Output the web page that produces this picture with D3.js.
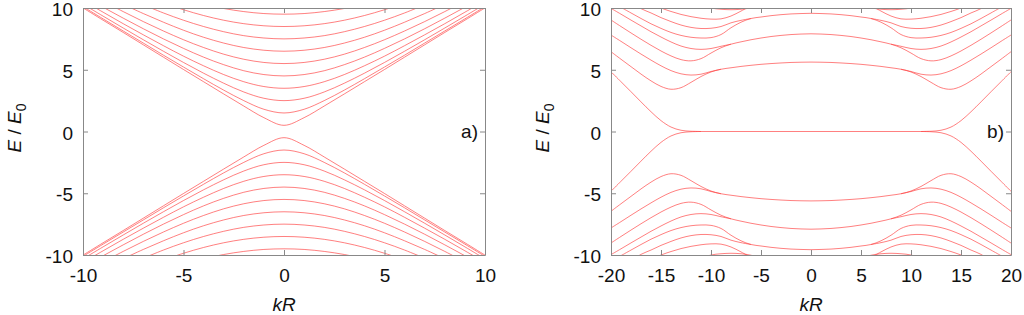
<!DOCTYPE html>
<html>
<head>
<meta charset="utf-8">
<script src="https://cdn.jsdelivr.net/npm/d3@7"></script>
<style>
body { margin: 0; background: #fff; }
text { font-family: "Liberation Sans", Arial, sans-serif; }
</style>
</head>
<body>
<div id="chart"></div>
<script>
var kA = [-10,-9,-8,-7,-6,-5,-4,-3,-2,-1,0,1,2,3,4,5,6,7,8,9,10];
var kB = [-20,-19,-18,-17,-16,-15,-14,-13,-12,-11,-10,-9,-8,-7,-6,-5,-4,-3,-2,-1,0,
          1,2,3,4,5,6,7,8,9,10,11,12,13,14,15,16,17,18,19,20];

// panel a) upper branches
var upperA = [
  [10.01,9.01,8.02,7.02,6.02,5.02,4.03,3.04,2.06,1.12,0.5,1.12,2.06,3.04,4.03,5.02,6.02,7.02,8.02,9.01,10.01],
  [10.11,9.12,8.14,7.16,6.18,5.22,4.27,3.35,2.5,1.8,1.5,1.8,2.5,3.35,4.27,5.22,6.18,7.16,8.14,9.12,10.11],
  [10.31,9.34,8.38,7.43,6.5,5.59,4.72,3.91,3.2,2.69,2.5,2.69,3.2,3.91,4.72,5.59,6.5,7.43,8.38,9.34,10.31],
  [10.59,9.66,8.73,7.83,6.95,6.1,5.32,4.61,4.03,3.64,3.5,3.64,4.03,4.61,5.32,6.1,6.95,7.83,8.73,9.66,10.59],
  [10.97,10.06,9.18,8.32,7.5,6.73,6.02,5.41,4.92,4.61,4.5,4.61,4.92,5.41,6.02,6.73,7.5,8.32,9.18,10.06,10.97],
  [null,10.55,9.71,8.9,8.14,7.43,6.8,6.26,5.85,5.59,5.5,5.59,5.85,6.26,6.8,7.43,8.14,8.9,9.71,10.55,null],
  [null,null,10.3,9.55,8.85,8.2,7.63,7.16,6.8,6.58,6.5,6.58,6.8,7.16,7.63,8.2,8.85,9.55,10.3,null,null],
  [null,null,null,10.26,9.6,9.01,8.5,8.08,7.76,7.57,7.5,7.57,7.76,8.08,8.5,9.01,9.6,10.26,null,null,null],
  [null,null,null,null,10.4,9.86,9.39,9.01,8.73,8.56,8.5,8.56,8.73,9.01,9.39,9.86,10.4,null,null,null,null],
  [null,null,null,null,null,null,10.31,9.96,9.71,9.55,9.5,9.55,9.71,9.96,10.31,null,null,null,null,null,null]
];
// panel a) lower branches
var lowerA = [
  [-10.01,-9.01,-8.02,-7.02,-6.02,-5.02,-4.03,-3.04,-2.06,-1.12,-0.5,-1.12,-2.06,-3.04,-4.03,-5.02,-6.02,-7.02,-8.02,-9.01,-10.01],
  [-10.11,-9.12,-8.14,-7.16,-6.18,-5.22,-4.27,-3.35,-2.5,-1.8,-1.5,-1.8,-2.5,-3.35,-4.27,-5.22,-6.18,-7.16,-8.14,-9.12,-10.11],
  [-10.31,-9.34,-8.38,-7.43,-6.5,-5.59,-4.72,-3.91,-3.2,-2.69,-2.5,-2.69,-3.2,-3.91,-4.72,-5.59,-6.5,-7.43,-8.38,-9.34,-10.31],
  [-10.59,-9.66,-8.73,-7.83,-6.95,-6.1,-5.32,-4.61,-4.03,-3.64,-3.5,-3.64,-4.03,-4.61,-5.32,-6.1,-6.95,-7.83,-8.73,-9.66,-10.59],
  [-10.97,-10.06,-9.18,-8.32,-7.5,-6.73,-6.02,-5.41,-4.92,-4.61,-4.5,-4.61,-4.92,-5.41,-6.02,-6.73,-7.5,-8.32,-9.18,-10.06,-10.97],
  [null,-10.55,-9.71,-8.9,-8.14,-7.43,-6.8,-6.26,-5.85,-5.59,-5.5,-5.59,-5.85,-6.26,-6.8,-7.43,-8.14,-8.9,-9.71,-10.55,null],
  [null,null,-10.3,-9.55,-8.85,-8.2,-7.63,-7.16,-6.8,-6.58,-6.5,-6.58,-6.8,-7.16,-7.63,-8.2,-8.85,-9.55,-10.3,null,null],
  [null,null,null,-10.26,-9.6,-9.01,-8.5,-8.08,-7.76,-7.57,-7.5,-7.57,-7.76,-8.08,-8.5,-9.01,-9.6,-10.26,null,null,null],
  [null,null,null,null,-10.4,-9.86,-9.39,-9.01,-8.73,-8.56,-8.5,-8.56,-8.73,-9.01,-9.39,-9.86,-10.4,null,null,null,null],
  [null,null,null,null,null,null,-10.31,-9.96,-9.71,-9.55,-9.5,-9.55,-9.71,-9.96,-10.31,null,null,null,null,null,null]
];

// panel b) upper branches (where two branches coincide only one carries the values)
var upperB = [
  [4.84,4.03,3.22,2.4,1.6,0.88,0.36,0.1,0.02,0,0,0,0,0,0,0,0,0,0,0,0,
   0,0,0,0,0,0,0,0,0,0,0,0.02,0.1,0.36,0.88,1.6,2.4,3.22,4.03,4.84],
  [6.46,5.85,5.25,4.65,4.1,3.65,3.42,3.55,3.98,4.45,4.82,5.04,5.16,5.27,5.36,5.44,5.5,5.55,5.59,5.61,5.62,
   5.61,5.59,5.55,5.5,5.44,5.36,5.27,5.16,5.04,4.82,4.45,3.98,3.55,3.42,3.65,4.1,4.65,5.25,5.85,6.46],
  [7.81,7.3,6.78,6.27,5.78,5.32,4.93,4.67,4.57,4.64,4.86,5.04,null,null,null,null,null,null,null,null,null,
   null,null,null,null,null,null,null,null,5.04,4.86,4.64,4.57,4.67,4.93,5.32,5.78,6.27,6.78,7.3,7.81],
  [9.03,8.5,7.98,7.47,6.98,6.52,6.12,5.82,5.72,5.9,6.35,6.78,7.07,7.26,7.43,7.57,7.69,7.78,7.85,7.89,7.91,
   7.89,7.85,7.78,7.69,7.57,7.43,7.26,7.07,6.78,6.35,5.9,5.72,5.82,6.12,6.52,6.98,7.47,7.98,8.5,9.03],
  [9.97,9.5,9.02,8.55,8.08,7.65,7.25,6.92,6.72,6.65,6.72,6.9,7.07,null,null,null,null,null,null,null,null,
   null,null,null,null,null,null,null,7.07,6.9,6.72,6.65,6.72,6.92,7.25,7.65,8.08,8.55,9.02,9.5,9.97],
  [null,10.05,9.6,9.15,8.72,8.35,8.02,7.78,7.63,7.57,7.6,7.85,8.4,8.85,9.15,9.27,9.38,9.46,9.52,9.55,9.57,
   9.55,9.52,9.46,9.38,9.27,9.15,8.85,8.4,7.85,7.6,7.57,7.63,7.78,8.02,8.35,8.72,9.15,9.6,10.05,null],
  [null,null,10.5,9.95,9.6,9.22,8.9,8.62,8.43,8.34,8.36,8.5,8.8,9.0,9.15,null,null,null,null,null,null,
   null,null,null,null,null,9.15,9.0,8.8,8.5,8.36,8.34,8.43,8.62,8.9,9.22,9.6,9.95,10.5,null,null],
  [null,null,null,null,10.35,10.0,9.72,9.48,9.3,9.17,9.1,9.12,9.35,9.75,10.2,null,null,null,null,null,null,
   null,null,null,null,null,10.2,9.75,9.35,9.12,9.1,9.17,9.3,9.48,9.72,10.0,10.35,null,null,null,null],
  [null,null,null,null,null,null,null,null,null,10.3,10.0,9.9,9.86,9.9,10.02,10.3,null,null,null,null,null,
   null,null,null,null,10.3,10.02,9.9,9.86,9.9,10.0,10.3,null,null,null,null,null,null,null,null,null]
];
// panel b) lower branches
var lowerB = [
  [-4.84,-4.03,-3.22,-2.4,-1.6,-0.88,-0.36,-0.1,-0.02,0,null,null,null,null,null,null,null,null,null,null,null,
   null,null,null,null,null,null,null,null,null,null,0,-0.02,-0.1,-0.36,-0.88,-1.6,-2.4,-3.22,-4.03,-4.84],
  [-6.46,-5.85,-5.25,-4.65,-4.1,-3.65,-3.42,-3.55,-3.98,-4.45,-4.82,-5.04,-5.16,-5.27,-5.36,-5.44,-5.5,-5.55,-5.59,-5.61,-5.62,
   -5.61,-5.59,-5.55,-5.5,-5.44,-5.36,-5.27,-5.16,-5.04,-4.82,-4.45,-3.98,-3.55,-3.42,-3.65,-4.1,-4.65,-5.25,-5.85,-6.46],
  [-7.81,-7.3,-6.78,-6.27,-5.78,-5.32,-4.93,-4.67,-4.57,-4.64,-4.86,-5.04,null,null,null,null,null,null,null,null,null,
   null,null,null,null,null,null,null,null,-5.04,-4.86,-4.64,-4.57,-4.67,-4.93,-5.32,-5.78,-6.27,-6.78,-7.3,-7.81],
  [-9.03,-8.5,-7.98,-7.47,-6.98,-6.52,-6.12,-5.82,-5.72,-5.9,-6.35,-6.78,-7.07,-7.26,-7.43,-7.57,-7.69,-7.78,-7.85,-7.89,-7.91,
   -7.89,-7.85,-7.78,-7.69,-7.57,-7.43,-7.26,-7.07,-6.78,-6.35,-5.9,-5.72,-5.82,-6.12,-6.52,-6.98,-7.47,-7.98,-8.5,-9.03],
  [-9.97,-9.5,-9.02,-8.55,-8.08,-7.65,-7.25,-6.92,-6.72,-6.65,-6.72,-6.9,-7.07,null,null,null,null,null,null,null,null,
   null,null,null,null,null,null,null,-7.07,-6.9,-6.72,-6.65,-6.72,-6.92,-7.25,-7.65,-8.08,-8.55,-9.02,-9.5,-9.97],
  [null,-10.05,-9.6,-9.15,-8.72,-8.35,-8.02,-7.78,-7.63,-7.57,-7.6,-7.85,-8.4,-8.85,-9.15,-9.27,-9.38,-9.46,-9.52,-9.55,-9.57,
   -9.55,-9.52,-9.46,-9.38,-9.27,-9.15,-8.85,-8.4,-7.85,-7.6,-7.57,-7.63,-7.78,-8.02,-8.35,-8.72,-9.15,-9.6,-10.05,null],
  [null,null,-10.5,-9.95,-9.6,-9.22,-8.9,-8.62,-8.43,-8.34,-8.36,-8.5,-8.8,-9.0,-9.15,null,null,null,null,null,null,
   null,null,null,null,null,-9.15,-9.0,-8.8,-8.5,-8.36,-8.34,-8.43,-8.62,-8.9,-9.22,-9.6,-9.95,-10.5,null,null],
  [null,null,null,null,-10.35,-10.0,-9.72,-9.48,-9.3,-9.17,-9.1,-9.12,-9.35,-9.75,-10.2,null,null,null,null,null,null,
   null,null,null,null,null,-10.2,-9.75,-9.35,-9.12,-9.1,-9.17,-9.3,-9.48,-9.72,-10.0,-10.35,null,null,null,null],
  [null,null,null,null,null,null,null,null,null,-10.3,-10.0,-9.9,-9.86,-9.9,-10.02,-10.3,null,null,null,null,null,
   null,null,null,null,-10.3,-10.02,-9.9,-9.86,-9.9,-10.0,-10.3,null,null,null,null,null,null,null,null,null]
];

var ticksA = [-10,-5,0,5,10];
var ticksB = [-20,-15,-10,-5,0,5,10,15,20];
var ticksE = [-10,-5,0,5,10];
var tags = ["a)", "b)"];

var W = 1024, H = 315;
var svg = d3.select("#chart").append("svg")
  .attr("width", W)
  .attr("height", H);

var y = d3.scaleLinear().domain([-10, 10]).range([255, 8]);

function panel(id, x, xticks, kvals, rows, tag, titleX) {
  var x0 = x.range()[0], x1 = x.range()[1];
  var g = svg.append("g");

  svg.append("clipPath").attr("id", "clip" + id)
    .append("rect")
      .attr("x", x0).attr("y", 8)
      .attr("width", x1 - x0).attr("height", 247);

  // curves
  var line = d3.line()
    .defined(function (d) { return d[1] !== null; })
    .x(function (d) { return x(d[0]); })
    .y(function (d) { return y(d[1]); })
    .curve(d3.curveCatmullRom);

  g.append("g")
    .attr("clip-path", "url(#clip" + id + ")")
    .selectAll("path")
    .data(rows)
    .enter()
    .append("path")
      .attr("d", function (row) { return line(kvals.map(function (k, i) { return [k, row[i]]; })); })
      .attr("fill", "none")
      .attr("stroke", "#ff3a3a")
      .attr("stroke-width", 0.65);

  var fmt = function (d) { return String(d); };

  // axes, gnuplot style inward ticks
  var bottom = g.append("g")
    .attr("transform", "translate(0,255)")
    .call(d3.axisBottom(x).tickValues(xticks).tickSize(-5).tickSizeOuter(0).tickPadding(14).tickFormat(fmt));
  var top = g.append("g")
    .attr("transform", "translate(0,8)")
    .call(d3.axisTop(x).tickValues(xticks).tickSize(-5).tickSizeOuter(0).tickFormat(""));
  var left = g.append("g")
    .attr("transform", "translate(" + x0 + ",0)")
    .call(d3.axisLeft(y).tickValues(ticksE).tickSize(-5).tickSizeOuter(0).tickPadding(10).tickFormat(fmt));
  var right = g.append("g")
    .attr("transform", "translate(" + x1 + ",0)")
    .call(d3.axisRight(y).tickValues(ticksE).tickSize(-5).tickSizeOuter(0).tickFormat(""));

  [bottom, top, left, right].forEach(function (a) {
    a.selectAll("path.domain").attr("stroke", "#888");
    a.selectAll("line").attr("stroke", "#888");
    a.selectAll("text")
      .style("font-size", "19px")
      .style("font-family", '"Liberation Sans", Arial, sans-serif')
      .attr("fill", "#111");
  });
  left.selectAll("text").attr("dy", "0.4em");

  // x axis title
  g.append("text")
    .attr("x", (x0 + x1) / 2)
    .attr("y", 311)
    .attr("text-anchor", "middle")
    .style("font-size", "19px")
    .style("font-style", "italic")
    .attr("fill", "#111")
    .text("kR");

  // y axis title
  var yt = g.append("text")
    .attr("transform", "translate(" + titleX + ",128) rotate(-90)")
    .attr("text-anchor", "middle")
    .style("font-size", "19px")
    .attr("fill", "#111");
  yt.append("tspan").style("font-style", "italic").text("E");
  yt.append("tspan").text(" / ");
  yt.append("tspan").style("font-style", "italic").text("E");
  yt.append("tspan").attr("dy", 5).style("font-size", "14px").text("0");

  // panel tag
  g.append("text")
    .attr("x", x1 - 7)
    .attr("y", 138)
    .attr("text-anchor", "end")
    .style("font-size", "19px")
    .attr("fill", "#111")
    .text(tag);
}

var xa = d3.scaleLinear().domain([-10, 10]).range([83, 485]);
var xb = d3.scaleLinear().domain([-20, 20]).range([611, 1011]);

panel("a", xa, ticksA, kA, upperA.concat(lowerA), tags[0], 21);
panel("b", xb, ticksB, kB, upperB.concat(lowerB), tags[1], 549);
</script>
</body>
</html>
